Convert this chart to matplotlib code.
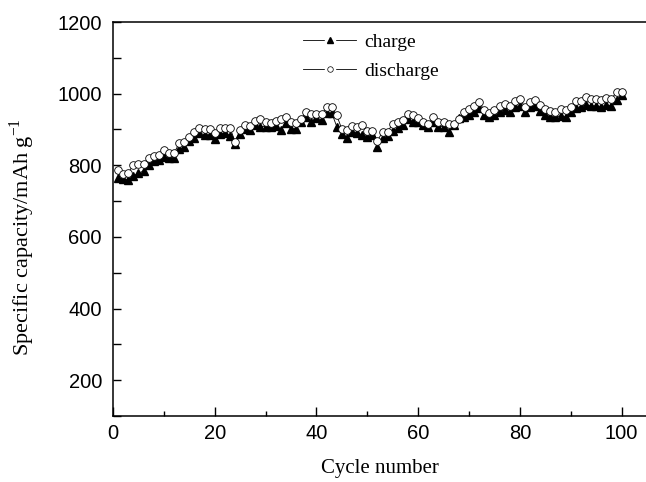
import matplotlib
matplotlib.use("Agg")
import matplotlib.pyplot as plt
from matplotlib.lines import Line2D
from matplotlib.ticker import MultipleLocator

# данни, отчетени от графиката
cycles = list(range(1, 101))
charge = [764, 762, 759, 770, 778, 784, 801, 813, 815, 822,
          820, 821, 845, 850, 868, 876, 890, 885, 885, 874,
          887, 890, 883, 860, 887, 901, 899, 913, 908, 908,
          906, 911, 899, 918, 902, 902, 920, 934, 921, 932,
          927, 946, 946, 908, 888, 876, 893, 890, 885, 880,
          885, 850, 876, 882, 897, 904, 913, 929, 921, 920,
          913, 907, 922, 908, 908, 894, 913, 932, 936, 941,
          950, 960, 939, 934, 941, 950, 955, 950, 964, 966,
          948, 963, 966, 952, 941, 936, 934, 938, 936, 948,
          960, 964, 969, 966, 966, 964, 967, 966, 981, 996]
discharge = [787, 775, 779, 801, 804, 804, 821, 827, 830, 842,
             834, 834, 861, 864, 879, 892, 904, 901, 900, 890,
             904, 905, 905, 866, 898, 913, 910, 925, 929, 922,
             918, 925, 929, 936, 922, 918, 930, 950, 944, 944,
             942, 962, 964, 939, 901, 899, 910, 908, 913, 897,
             897, 869, 893, 894, 916, 920, 927, 943, 939, 931,
             922, 916, 934, 922, 921, 915, 915, 929, 948, 957,
             966, 977, 953, 946, 955, 966, 971, 966, 980, 985,
             963, 977, 981, 967, 957, 952, 948, 957, 953, 964,
             979, 980, 990, 985, 986, 981, 988, 985, 1005, 1004]

plt.rcParams['mathtext.fontset'] = 'custom'
plt.rcParams['mathtext.rm'] = 'Liberation Serif'

fig = plt.figure(figsize=(6.46, 4.82), dpi=100)
ax = fig.add_axes([113 / 646, 1 - 416 / 482, 533 / 646, 394 / 482])

ax.plot(cycles, charge, color='k', lw=0.6, marker='^', ms=5.5,
        mfc='k', mec='k', zorder=2)
ax.plot(cycles, discharge, color='k', lw=0.6, marker='o', ms=5.5,
        mfc='white', mec='k', mew=0.6, zorder=3)

ax.set_xlim(0, 104.8)
ax.set_ylim(100, 1200)
ax.xaxis.set_major_locator(MultipleLocator(20))
ax.xaxis.set_minor_locator(MultipleLocator(10))
ax.yaxis.set_major_locator(MultipleLocator(200))
ax.yaxis.set_minor_locator(MultipleLocator(100))

for s in ['left', 'bottom', 'top']:
    ax.spines[s].set_linewidth(1.1)
ax.spines['right'].set_visible(False)

ax.tick_params(axis='both', which='both', direction='in', width=1.0,
               top=False, right=False)
ax.tick_params(axis='x', which='major', length=6.5, pad=6)
ax.tick_params(axis='x', which='minor', length=3.3)
ax.tick_params(axis='y', which='both', length=6, pad=8)
for lab in ax.get_xticklabels() + ax.get_yticklabels():
    lab.set_fontfamily('Liberation Sans')
    lab.set_fontsize(14.5)

ax.set_xlabel('Cycle number', family='Liberation Serif', fontsize=15)
ax.set_ylabel('Specific capacity/mAh g$^{\\mathregular{-1}}$',
              family='Liberation Serif', fontsize=16)
ax.xaxis.set_label_coords(0.5, -0.108)
ax.yaxis.set_label_coords(-0.143, 0.455)

# легенда с празнина около маркера
h_charge = (Line2D([], [], color='k', lw=0.6),
            Line2D([], [], marker='s', color='white', ms=7, ls=''),
            Line2D([], [], marker='^', color='k', ms=4, ls=''))
h_dis = (Line2D([], [], color='k', lw=0.6),
         Line2D([], [], marker='s', color='white', ms=7, ls=''),
         Line2D([], [], marker='o', mfc='white', mec='k', mew=0.5, ms=4, ls=''))
leg = ax.legend([h_charge, h_dis], ['charge', 'discharge'],
                loc='upper left', bbox_to_anchor=(0.338, 0.995),
                frameon=False, borderpad=0, handlelength=2.75,
                handletextpad=0.4, labelspacing=0.55,
                prop={'family': 'Liberation Serif', 'size': 14})

fig.savefig('out.png', dpi=100)
